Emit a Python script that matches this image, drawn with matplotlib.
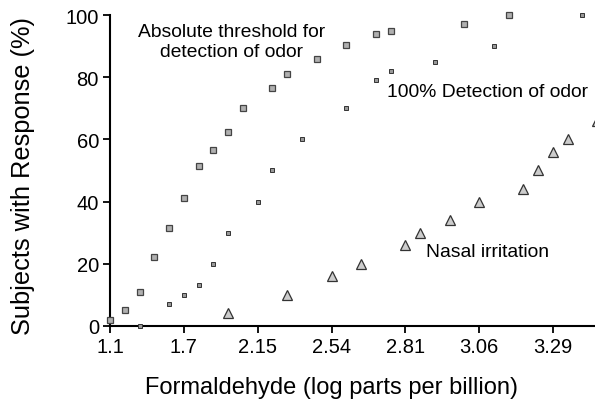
import numpy as np
import matplotlib.pyplot as plt

plt.rcParams['font.family'] = ['Liberation Sans', 'DejaVu Sans']

# tick labels sit at evenly spaced positions 0..6 on the x axis
tick_labels = ['1.1', '1.7', '2.15', '2.54', '2.81', '3.06', '3.29']

# absolute threshold for detection of odor
thresh_x = [0, 0.2, 0.4, 0.6, 0.8, 1.0, 1.2, 1.4, 1.6, 1.8, 2.2, 2.4, 2.8, 3.2, 3.6, 3.8, 4.8, 5.4]
thresh_y = [2, 5, 11, 22, 31.5, 41, 51.5, 56.5, 62.5, 70, 76.5, 81, 86, 90.5, 94, 95, 97, 100]

# 100% detection of odor
full_x = [0.4, 0.8, 1.0, 1.2, 1.4, 1.6, 2.0, 2.2, 2.6, 3.2, 3.6, 3.8, 4.4, 5.2, 6.4]
full_y = [0, 7, 10, 13, 20, 30, 40, 50, 60, 70, 79, 82, 85, 90, 100]

# nasal irritation
nasal_x = [1.6, 2.4, 3.0, 3.4, 4.0, 4.2, 4.6, 5.0, 5.6, 5.8, 6.0, 6.2, 6.6]
nasal_y = [4, 10, 16, 20, 26, 30, 34, 40, 44, 50, 56, 60, 66]

fig = plt.figure(figsize=(5.95, 4.02), dpi=100)
ax = fig.add_axes([0.185, 0.187, 0.815, 0.773])

ax.plot(thresh_x, thresh_y, linestyle='none', marker='s', markersize=4.5,
        markerfacecolor='#b0b0b0', markeredgecolor='#444444', markeredgewidth=0.9, clip_on=False, zorder=3)
ax.plot(full_x, full_y, linestyle='none', marker='s', markersize=2.4,
        markerfacecolor='#999999', markeredgecolor='#333333', markeredgewidth=0.7, clip_on=False, zorder=3)
ax.plot(nasal_x, nasal_y, linestyle='none', marker='^', markersize=7,
        markerfacecolor='#cccccc', markeredgecolor='#333333', markeredgewidth=0.9, clip_on=False, zorder=3)

ax.text(1.64, 91.5, 'Absolute threshold for\ndetection of odor', ha='center', va='center',
        fontsize=13.9, linespacing=1.2)
ax.text(3.75, 75.3, '100% Detection of odor', ha='left', va='center', fontsize=13.9)
ax.text(4.28, 23.9, 'Nasal irritation', ha='left', va='center', fontsize=13.9)

ax.set_xlim(0, 6.57)
ax.set_ylim(0, 100)
ax.set_xticks(np.arange(len(tick_labels)))
ax.set_xticklabels(tick_labels)
ax.set_yticks([0, 20, 40, 60, 80, 100])
ax.tick_params(labelsize=14.5, length=5, width=1.3, pad=3)

for side in ['top', 'right']:
    ax.spines[side].set_visible(False)
for side in ['left', 'bottom']:
    ax.spines[side].set_linewidth(1.5)

fig.text(0.557, 0.02, 'Formaldehyde (log parts per billion)', ha='center', va='baseline', fontsize=17)
fig.text(0.039, 0.562, 'Subjects with Response (%)', ha='center', va='center', rotation=90, fontsize=18.3)

fig.savefig('out.png', dpi=100)
